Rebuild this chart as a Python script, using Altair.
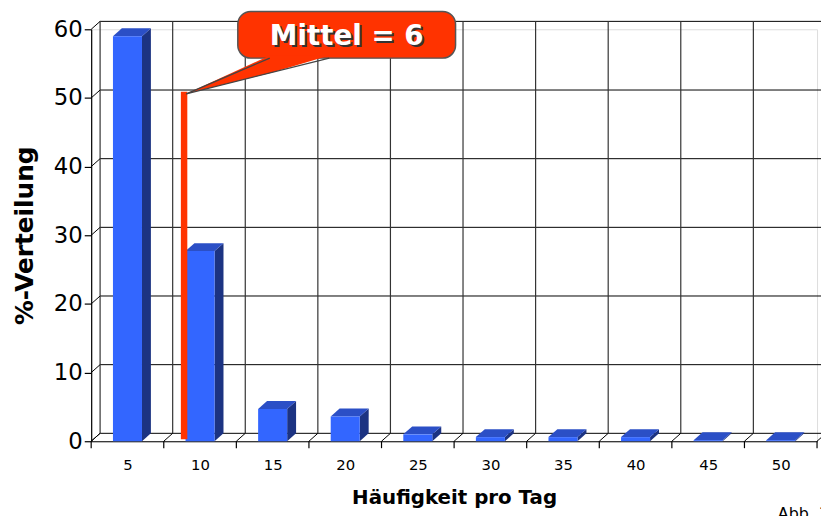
import altair as alt
import pandas as pd

# ---------------- data ----------------
categories = [5, 10, 15, 20, 25, 30, 35, 40, 45, 50]
values = [59.0, 27.7, 4.7, 3.6, 1.0, 0.6, 0.6, 0.6, 0.15, 0.15]
y_ticks = [0, 10, 20, 30, 40, 50, 60]
x_bounds = [2.5, 7.5, 12.5, 17.5, 22.5, 27.5, 32.5, 37.5, 42.5, 47.5, 52.5]
mean_text = "Mittel = 6"
x_title = "Häufigkeit pro Tag"
y_title = "%-Verteilung"
footer_text = "Abb. 1"

# ---------------- layout / style ----------------
W, H = 733, 416
X_DOM = [2.5, 52.5]
Y_DOM = [0, 60]
DX_PX, DY_PX = 9, 8                       # 3D depth in pixels
ddx = DX_PX * (X_DOM[1] - X_DOM[0]) / W   # depth in data units
ddy = DY_PX * (Y_DOM[1] - Y_DOM[0]) / H
HALF = 1.0                                # half bar width (data units)

FRONT = "#3366FF"
TOP = "#2B4FC6"
SIDE = "#1C3382"
RED = "#FF3300"

xs = alt.Scale(domain=X_DOM, nice=False, zero=False)
ys = alt.Scale(domain=Y_DOM, nice=False, zero=False)

x_axis = alt.Axis(values=categories, ticks=False, grid=False, domain=True,
                  domainColor="black", domainWidth=1.2, labelFontSize=15,
                  labelFont="DejaVu Sans", labelColor="black", labelPadding=17,
                  title=x_title, titleFont="DejaVu Sans", titleFontSize=20,
                  titleFontWeight="bold", titleColor="black", titlePadding=15)
y_axis = alt.Axis(values=y_ticks, grid=False, domain=True, domainColor="black",
                  domainWidth=1.2, tickColor="black", tickSize=7, tickWidth=1.2,
                  labelFontSize=23, labelFont="DejaVu Sans", labelColor="black",
                  labelPadding=2, title=y_title, titleFont="DejaVu Sans",
                  titleFontSize=25, titleFontWeight="bold", titleColor="black",
                  titlePadding=16)

X = lambda f: alt.X(f, type="quantitative", scale=xs, axis=x_axis)
Y = lambda f: alt.Y(f, type="quantitative", scale=ys, axis=y_axis)

ydf = pd.DataFrame({"y": y_ticks})
xdf = pd.DataFrame({"x": x_bounds})
bars = pd.DataFrame({"x": categories, "v": values})

# back wall horizontal gridlines
back_h = alt.Chart(ydf).mark_rule(color="black", strokeWidth=1,
                                  xOffset=DX_PX, x2Offset=DX_PX,
                                  yOffset=-DY_PX).encode(
    x=alt.datum(X_DOM[0], scale=xs), x2=alt.datum(X_DOM[1] + 1), y=Y("y"))

# back wall vertical gridlines
back_v = alt.Chart(xdf).mark_rule(color="#333", strokeWidth=1.2,
                                  xOffset=DX_PX, yOffset=-DY_PX,
                                  y2Offset=-DY_PX).encode(
    x=X("x"), y=alt.datum(0, scale=ys), y2=alt.datum(60))

# floor diagonals
floor_d = alt.Chart(xdf).mark_rule(color="black", strokeWidth=1,
                                   x2Offset=DX_PX, y2Offset=-DY_PX).encode(
    x=X("x"), x2=alt.X2("x"), y=alt.datum(0, scale=ys), y2=alt.datum(0))

# left wall diagonals
wall_d = alt.Chart(ydf).mark_rule(color="black", strokeWidth=1,
                                  x2Offset=DX_PX, y2Offset=-DY_PX).encode(
    x=alt.datum(X_DOM[0], scale=xs), x2=alt.datum(X_DOM[0]), y=Y("y"),
    y2=alt.Y2("y"))

# x ticks at bin boundaries
x_ticks = alt.Chart(xdf).mark_rule(color="black", strokeWidth=1.2,
                                   y2Offset=7).encode(
    x=X("x"), y=alt.datum(0, scale=ys), y2=alt.datum(0))

# 3D bar faces: one small layer per bar face
face_layers = []
for c, v in zip(categories, values):
    sdf = pd.DataFrame({"sx": [c + HALF, c + HALF + ddx],
                        "slo": [0, ddy], "shi": [v, v + ddy]})
    face_layers.append(
        alt.Chart(sdf).mark_area(color=SIDE).encode(
            x=X("sx"),
            y=alt.Y("slo:Q", scale=ys, axis=y_axis, stack=None),
            y2="shi:Q"))
    tdf = pd.DataFrame({"ty": [v, v + ddy],
                        "tl": [c - HALF, c - HALF + ddx],
                        "tr": [c + HALF, c + HALF + ddx]})
    face_layers.append(
        alt.Chart(tdf).mark_area(color=TOP, orient="horizontal").encode(
            y=Y("ty"),
            x=alt.X("tl:Q", scale=xs, axis=x_axis, stack=None),
            x2="tr:Q"))

front = alt.Chart(bars).transform_calculate(
    xl=f"datum.x - {HALF}", xr=f"datum.x + {HALF}").mark_rect(color=FRONT).encode(
    x=X("xl"), x2="xr:Q", y=Y("v"), y2=alt.datum(0))

# mean line
MEAN_X = 8.9
mean_line = alt.Chart(pd.DataFrame({"m": [MEAN_X]})).mark_rule(
    color=RED, strokeWidth=6.5, strokeCap="butt").encode(
    x=X("m"), y=alt.datum(0.3, scale=ys), y2=alt.datum(50.9))

# callout
BOX = dict(x=12.6, x2=27.6, y=62.6, y2=55.8)
box = alt.Chart(pd.DataFrame({"a": [0]})).mark_rect(
    fill=RED, stroke="#555", strokeWidth=1.5, cornerRadius=13).encode(
    x=alt.datum(BOX["x"], scale=xs), x2=alt.datum(BOX["x2"]),
    y=alt.datum(BOX["y"], scale=ys), y2=alt.datum(BOX["y2"]))

ptr = pd.DataFrame({"px": [9.05, 14.8, 18.9], "lo": [50.6, 53.6, 56.2],
                    "hi": [50.6, 56.2, 56.2]})
pointer = alt.Chart(ptr).mark_area(color=RED, orient="vertical").encode(
    x=X("px"), y=alt.Y("lo:Q", scale=ys, axis=y_axis, stack=None), y2="hi:Q")

edge = pd.DataFrame({"ex": [9.05, 18.9, 9.05, 14.8], "ey": [50.6, 55.8, 50.6, 55.8],
                     "k": ["a", "a", "b", "b"]})
ptr_edge = alt.Chart(edge).mark_line(color="#444", strokeWidth=1.3).encode(
    x=X("ex"), y=Y("ey"), detail="k:N")

TXT_X, TXT_Y = 20.1, 58.9
lab = pd.DataFrame({"t": [mean_text]})
shadow = alt.Chart(lab).mark_text(font="DejaVu Sans", fontSize=28, fontWeight="bold",
                                  color="#333", dx=2, dy=2, baseline="middle").encode(
    x=alt.datum(TXT_X, scale=xs), y=alt.datum(TXT_Y, scale=ys), text="t:N")
label = alt.Chart(lab).mark_text(font="DejaVu Sans", fontSize=28, fontWeight="bold",
                                 color="white", baseline="middle").encode(
    x=alt.datum(TXT_X, scale=xs), y=alt.datum(TXT_Y, scale=ys), text="t:N")

footer = alt.Chart(pd.DataFrame({"t": [footer_text]})).mark_text(
    font="DejaVu Sans", fontSize=16, color="black", align="left", baseline="top").encode(
    x=alt.datum(49.8, scale=xs), y=alt.datum(-9.4, scale=ys), text="t:N")

chart = alt.layer(
    back_h, back_v, floor_d, wall_d, *face_layers, front, x_ticks, mean_line,
    box, pointer, ptr_edge, shadow, label, footer
).properties(
    width=W, height=H,
    autosize=alt.AutoSizeParams(type="none"),
    padding={"left": 84, "top": 19, "right": 4, "bottom": 73},
).configure_view(stroke=None).configure(background="white")

chart.save("out.html", embed_options={"renderer": "svg", "actions": False})
